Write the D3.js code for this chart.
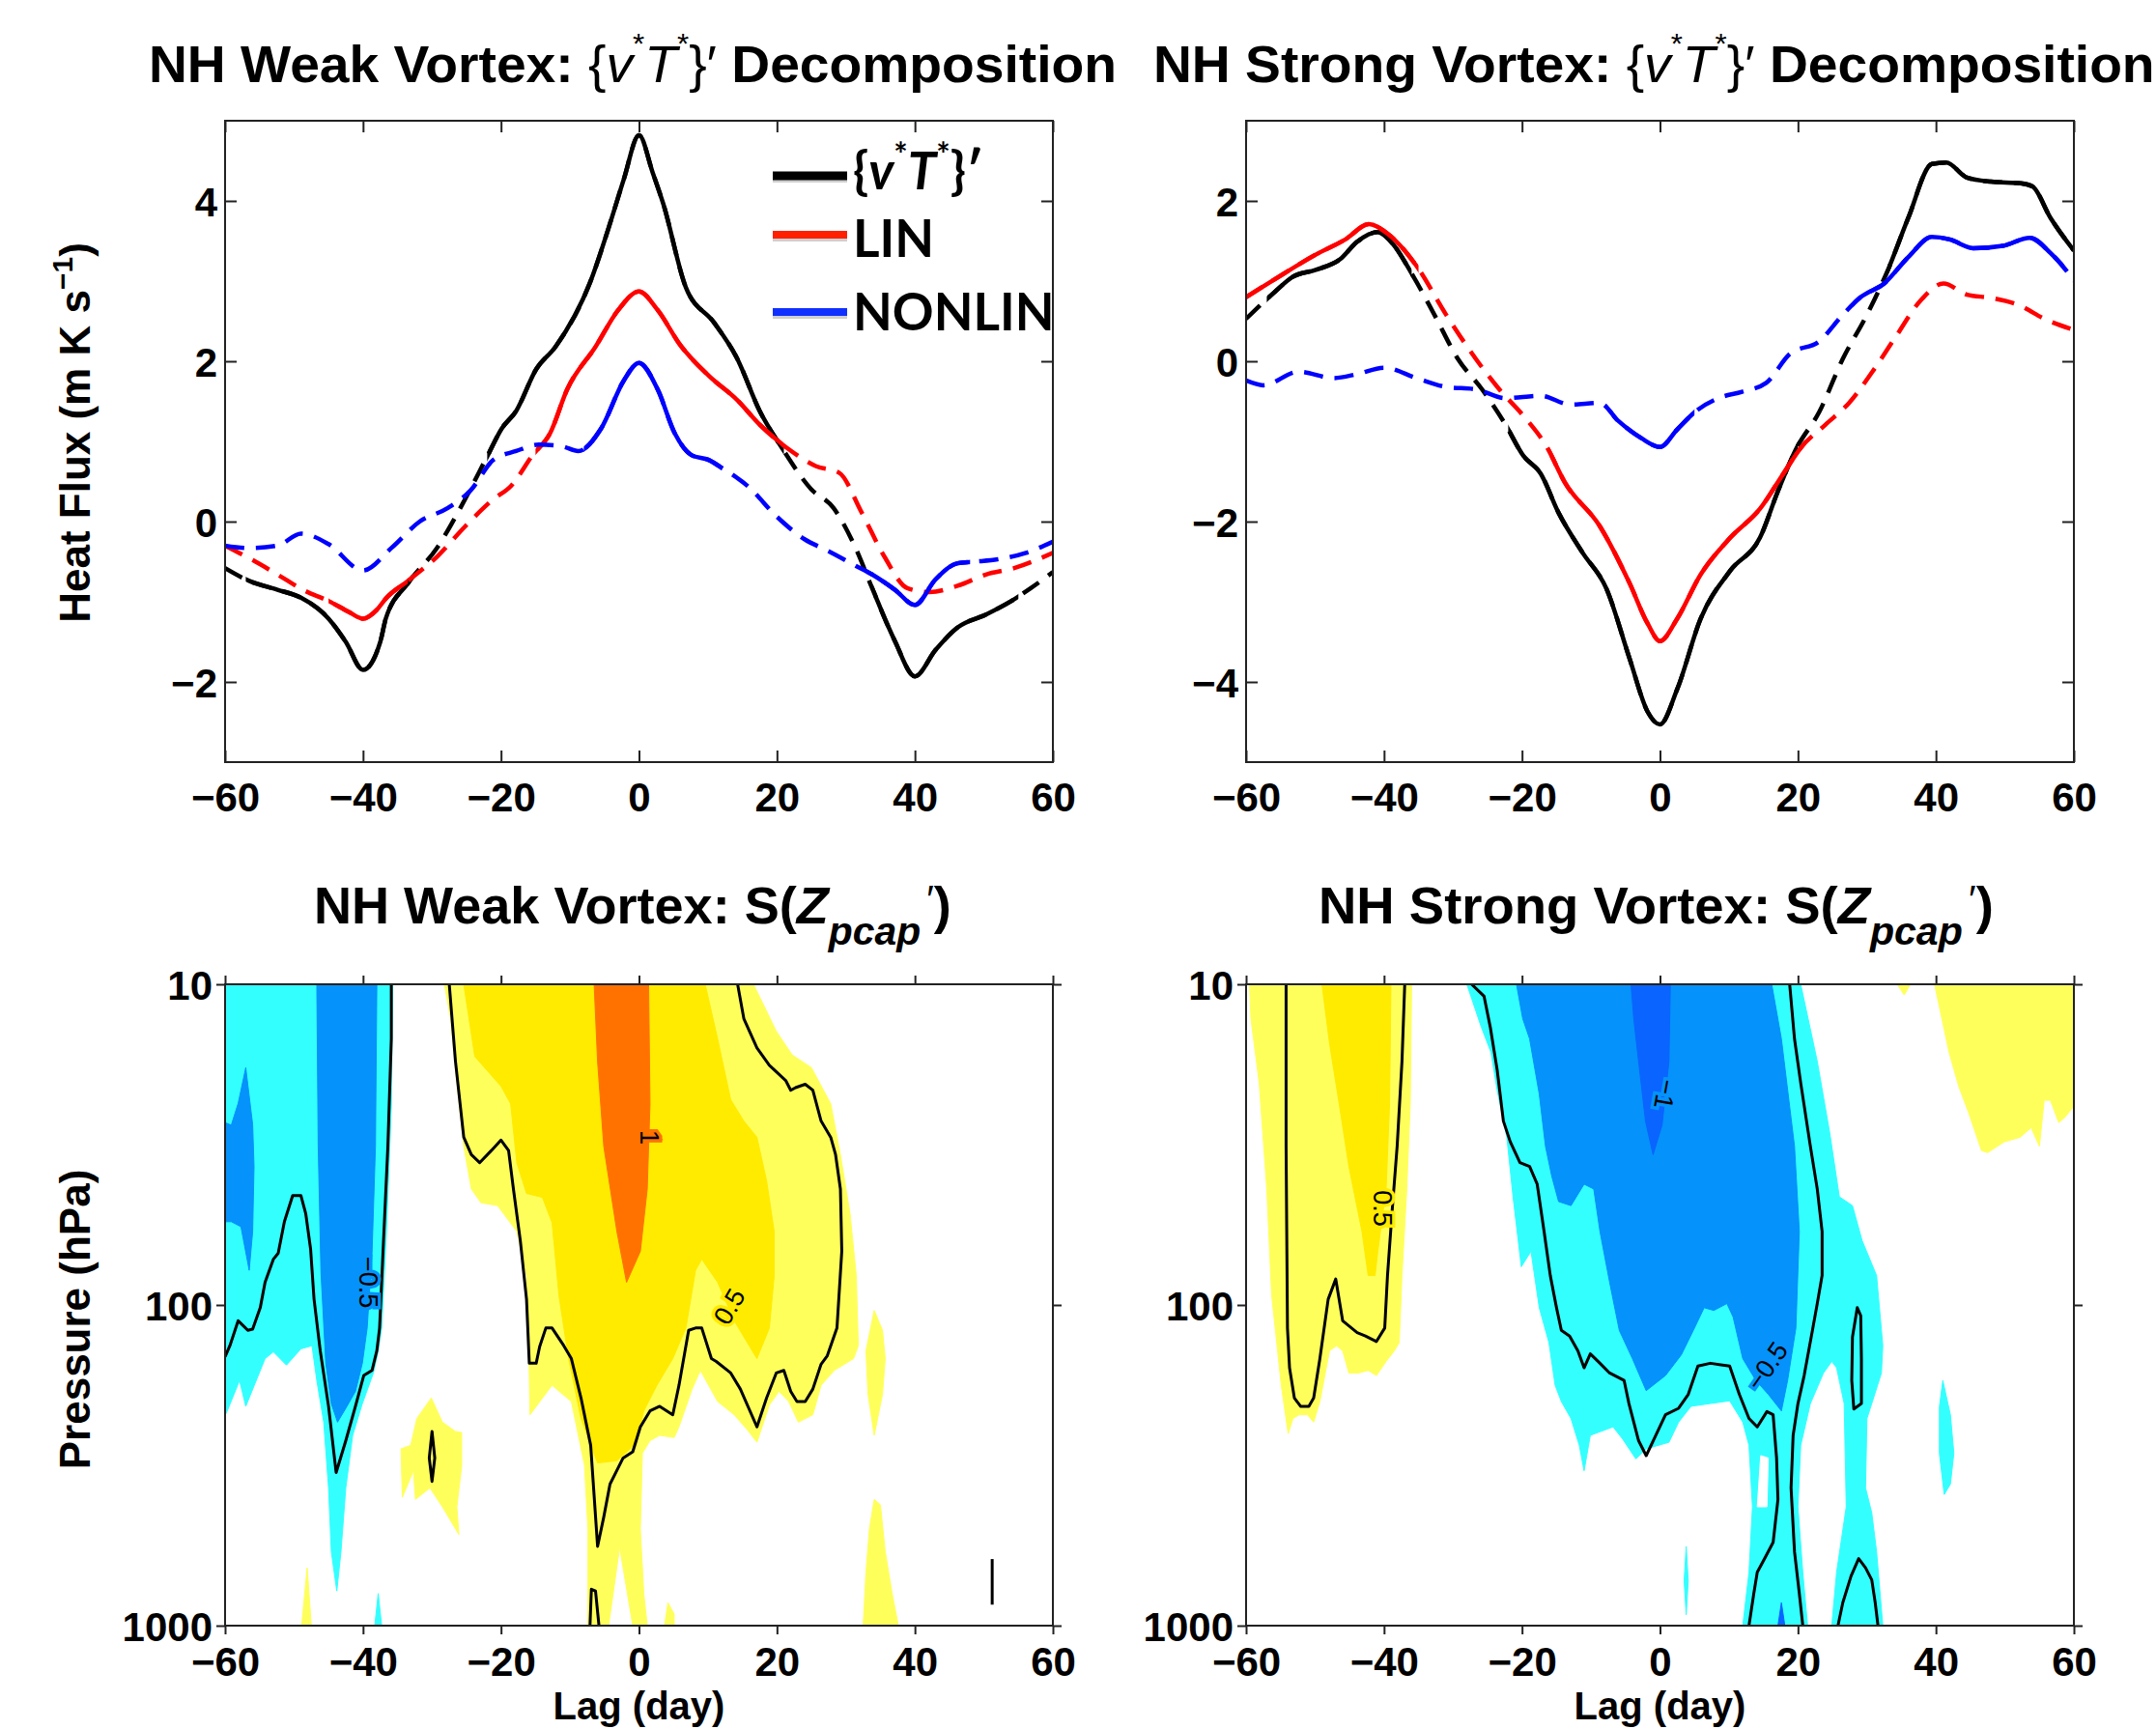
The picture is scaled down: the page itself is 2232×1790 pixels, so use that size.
<!DOCTYPE html>
<html>
<head>
<meta charset="utf-8">
<script src="https://cdn.jsdelivr.net/npm/d3@7"></script>
<style>
  body { margin: 0; background: #fff; }
  svg { display: block; }
  text { font-family: "Liberation Sans", Arial, sans-serif; font-weight: bold; fill: #000; }
  .tick text { font-size: 42px; }
  .title { font-size: 53px; }
  .axlabel { font-size: 44px; }
  .lagLabel { font-size: 40px; }
  .legend { font-family: Lato, "Open Sans", sans-serif; font-size: 53px; }
  .clabel { font-size: 27px; font-weight: normal; }
  .tick line { stroke: #222; stroke-width: 2; }
</style>
</head>
<body>
<svg id="chart" width="2232" height="1790"></svg>
<script>
// ---- Data ----
const lagTicks = [-60, -40, -20, 0, 20, 40, 60];
const weakFluxTicks = [-2, 0, 2, 4];
const strongFluxTicks = [-4, -2, 0, 2];
const pressureTicks = [10, 100, 1000];

// heat flux composites [lag, value]
const weakTotal = [[-60,-0.58],[-56.5,-0.74],[-52.4,-0.85],[-49,-0.95],[-45,-1.21],[-42.5,-1.5],[-40,-1.85],[-37.5,-1.5],[-36.7,-1.21],[-33.5,-0.77],[-29.3,-0.33],[-25.2,0.28],[-21.9,0.83],[-19.9,1.16],[-17.8,1.38],[-14.9,1.9],[-12.1,2.18],[-7.1,2.98],[-3.9,3.8],[-2.2,4.27],[0,4.82],[2,4.35],[3.5,3.97],[6.8,2.92],[10.9,2.48],[14.2,2.04],[17.5,1.38],[20.8,0.91],[24.9,0.41],[28.2,0.17],[31.4,-0.33],[33.8,-0.83],[37.1,-1.49],[40,-1.93],[43,-1.6],[46.2,-1.32],[50.3,-1.16],[54,-0.99],[56.8,-0.83],[60,-0.63]];
const weakLin = [[-60,-0.3],[-56,-0.48],[-52.4,-0.66],[-48.5,-0.86],[-45,-0.99],[-42,-1.13],[-40,-1.21],[-38,-1.1],[-36.7,-0.96],[-33.5,-0.74],[-29.3,-0.44],[-25.2,-0.06],[-21.1,0.28],[-18.6,0.44],[-15.4,0.83],[-12.9,1.1],[-10.4,1.65],[-6.3,2.18],[-3,2.64],[0,2.87],[2.7,2.64],[6,2.2],[10.1,1.82],[14.2,1.52],[17.5,1.21],[21.6,0.91],[25.7,0.69],[29,0.61],[32.3,0.11],[35.6,-0.44],[38.9,-0.83],[42.1,-0.88],[46.2,-0.8],[50.3,-0.66],[54.4,-0.58],[60,-0.39]];
const weakNonlin = [[-60,-0.3],[-56.5,-0.33],[-52.4,-0.3],[-49,-0.15],[-45,-0.28],[-40,-0.61],[-35.9,-0.33],[-31.8,0],[-27.7,0.17],[-24.4,0.39],[-21.1,0.77],[-17.8,0.88],[-14.5,0.96],[-11.2,0.94],[-8.8,0.88],[-5.5,1.16],[-2.2,1.76],[0,1.98],[2.7,1.65],[5.2,1.1],[7.6,0.83],[10.1,0.77],[12.2,0.66],[15.8,0.44],[20,0.06],[24,-0.22],[27.3,-0.36],[31.4,-0.55],[33.8,-0.66],[37.1,-0.85],[40,-1.04],[43,-0.72],[46.2,-0.52],[48.7,-0.5],[52,-0.47],[56.1,-0.39],[60,-0.25]];
const strongTotal = [[-60,0.53],[-55.9,0.86],[-53.3,1.05],[-49.9,1.14],[-46.4,1.27],[-43.9,1.49],[-40.9,1.61],[-38.7,1.46],[-36.1,1.11],[-32.7,0.58],[-29.3,0.03],[-25.8,-0.35],[-22.4,-0.79],[-19.8,-1.18],[-17.3,-1.4],[-14.7,-1.89],[-11.2,-2.39],[-7.8,-2.83],[-4.4,-3.71],[-1.8,-4.37],[0,-4.53],[2.5,-4.09],[5.9,-3.21],[10.2,-2.61],[14.5,-2.2],[17.1,-1.62],[19.7,-1.1],[23.1,-0.63],[26.5,0.03],[30,0.58],[33,1.13],[36,1.79],[39.4,2.46],[41.5,2.48],[44.5,2.29],[48,2.24],[52.3,2.22],[54,2.18],[56.6,1.79],[60,1.38]];
const strongLin = [[-60,0.8],[-55.9,1.02],[-49.9,1.33],[-45.6,1.52],[-42.2,1.71],[-39.6,1.6],[-35.3,1.19],[-31,0.58],[-26.7,0.03],[-23.3,-0.35],[-19.8,-0.68],[-16.4,-1.07],[-13.8,-1.51],[-8.7,-2.06],[-4.4,-2.77],[-1.8,-3.27],[0,-3.49],[2.5,-3.21],[5.9,-2.66],[10.2,-2.2],[14.5,-1.84],[17.9,-1.4],[20.5,-1.07],[24,-0.79],[27.4,-0.52],[30.8,-0.13],[34.2,0.31],[37.7,0.75],[41.1,0.97],[44.5,0.83],[48,0.79],[52.3,0.69],[55.7,0.53],[60,0.39]];
const strongNonlin = [[-60,-0.24],[-57.5,-0.3],[-52.4,-0.13],[-47.3,-0.21],[-43.9,-0.16],[-40,-0.08],[-35.3,-0.21],[-31,-0.32],[-26.7,-0.35],[-22.4,-0.46],[-17.3,-0.43],[-13,-0.54],[-8.7,-0.52],[-6.1,-0.74],[-2.7,-0.96],[0,-1.07],[2.5,-0.85],[5.1,-0.63],[8.5,-0.46],[11.9,-0.38],[15.4,-0.27],[18.8,0.09],[23.1,0.25],[26.5,0.58],[29.1,0.8],[32.5,0.97],[36,1.3],[39.4,1.55],[42,1.52],[45.4,1.41],[49.7,1.44],[53.6,1.54],[56.6,1.35],[59.1,1.11],[60,1.0]];

// lag ranges where each composite is significant (drawn solid)
const weakTotalSig = [[-57,-33],[-22,21],[34,55]];
const weakLinSig = [[-45,-33.5],[-15,21]];
const weakNonlinSig = [[-8,12],[33,48]];
const strongTotalSig = [[-57,-36],[-22,20],[33,60]];
const strongLinSig = [[-60,-35],[-16,21]];
const strongNonlinSig = [[-7,5],[28,58.5]];

// S(Zpcap') shaded regions, [lag, hPa]
const weakCyan = [[-60,10],[-35.7,10],[-35.9,24],[-36.6,59],[-37.3,118],[-37.8,139],[-38.5,163],[-40.1,203],[-41.5,255],[-42.5,372],[-43.2,588],[-43.8,780],[-44.6,588],[-45,372],[-45.7,232],[-46.7,172],[-47.4,134],[-49,137],[-51.1,154],[-53,140],[-54.2,147],[-57,207],[-57.9,172],[-59.8,217],[-60,220]];
const weakCyanBits = [[[-37.8,794],[-37.3,1000],[-38.3,1000]]];
const weakBlueTongue = [[-46.7,10],[-38,10],[-38.2,32],[-38.7,69],[-39.4,118],[-40.1,152],[-41.1,186],[-42.5,210],[-43.7,232],[-44.6,203],[-45.4,152],[-46.1,79],[-46.5,32]];
const weakBlueStrip = [[-57,18.2],[-56,27.4],[-55.8,37],[-56,59],[-56.5,78],[-57.7,57],[-59.1,55],[-60,55],[-60,27],[-59.1,27.5],[-58.1,23.5]];
const weakLightYellow = [[-28.2,10],[16.6,10],[19.9,14],[22.2,16.6],[25,18.2],[27.8,23.6],[29.2,34],[30.6,52],[31.5,81],[31.8,134],[31.1,147],[28.3,160],[26.4,178],[25.2,220],[23.1,232],[21.7,200],[20.3,186],[18.9,205],[17.1,268],[15.7,245],[13.8,220],[11.4,200],[8.9,160],[7.7,183],[5.8,240],[5.1,259],[3,255],[1.6,265],[0.5,290],[0.2,501],[0.7,794],[1.2,1000],[-0.9,1000],[-2.8,570],[-4.4,1000],[-7.4,1000],[-7.4,501],[-7.9,316],[-9.8,200],[-12.6,178],[-15.8,220],[-16,126],[-16.3,81],[-17.7,59],[-20.5,49],[-22.9,48],[-24.3,43.5],[-25.4,32],[-26.4,20.3],[-27.3,12.8]];
const weakYellowBits = [
  [[-30.1,195],[-28.5,232],[-26.6,248],[-25.7,250],[-25.7,318],[-26.4,426],[-26.1,520],[-28.5,426],[-30.3,372],[-32.4,404],[-32.7,329],[-34.3,398],[-34.5,281],[-33.1,274],[-32.2,226]],
  [[34.1,104],[35.3,120],[35.7,147],[35.3,190],[34.1,255],[33.2,190],[32.9,139]],
  [[34.1,404],[35,420],[35.7,588],[36.7,794],[37.6,1000],[32.5,1000],[32.9,682],[33.4,500]],
  [[4.2,848],[5.1,920],[5.1,1000],[3.7,1000]],
  [[-48.1,660],[-47.5,1000],[-48.9,1000]]
];
const weakGold = [[-25.4,10],[9.6,10],[11.4,14.8],[13.3,22.9],[15.2,26.7],[17.1,30],[18.5,41],[19.6,59],[19.6,81],[18.9,118],[17.1,147],[15.7,131],[13.8,112],[11.4,85],[9.1,72],[8.2,78],[6.8,118],[4.9,147],[2.6,178],[0.7,214],[-0.4,270],[-3.2,306],[-6,311],[-8.4,226],[-10.2,147],[-11.6,93.5],[-12.6,55.4],[-14,46.2],[-16.3,44.9],[-17.7,36.1],[-18.6,23.6],[-20,20.8],[-23.8,16.8]];
const weakOrange = [[-6.5,10],[1.4,10],[1.6,23.6],[1.2,43.5],[0.2,68],[-1.8,85],[-3.2,59],[-5.1,32],[-6,17.4]];

const weakContourNeg = [[-60,145],[-59.3,134],[-58.1,112],[-56.7,120],[-56,119],[-54.9,102],[-54.2,85],[-53,72],[-52.3,69],[-51.4,55],[-50.2,45.6],[-49,45.6],[-48.3,52],[-47.6,67],[-47.1,96],[-46.2,139],[-45,207],[-43.9,333],[-42.5,265],[-41.1,207],[-39.9,166],[-38.7,160],[-38,139],[-37.6,118],[-37.1,68],[-36.4,32],[-35.9,14.8],[-35.9,10]];
const weakContourPos = [[-27.5,10],[-26.6,17.4],[-25.4,30],[-24.3,34],[-23.1,36],[-21.4,33],[-20,30.6],[-18.9,33],[-18.2,43.5],[-17.2,63],[-16.3,96],[-15.9,152],[-14.9,152],[-14.4,135],[-13.5,118],[-12.6,118],[-10.9,134],[-9.8,147],[-8.4,195],[-7,274],[-6,566],[-5.1,458],[-4.2,362],[-2.3,300],[-0.9,287],[0.2,240],[1.6,214],[3,207],[4.9,220],[5.8,178],[7.2,120],[8.2,118],[9.1,118],[10.5,147],[11.2,150],[13.3,163],[14.7,183],[17.1,240],[18.5,195],[19.9,163],[21,160],[22,186],[22.9,200],[24.1,200],[25.2,183],[26.4,153],[27.3,144],[28.7,118],[29.4,68],[29.2,43.5],[28.5,34],[27.8,30],[26.4,26.7],[25.2,21.4],[24.1,20.5],[22.7,21],[22,21.4],[21.3,20],[18.9,17.9],[17.1,15.8],[15.2,12.8],[14.3,10]];
const weakContourIsland = [[-30,248],[-29.6,300],[-30,355],[-30.4,300]];
const weakContourBottom = [[-7.1,1000],[-6.9,770],[-6.3,780],[-5.8,1000]];
const weakContourTick = [[51.2,620],[51.2,860]];

const strongLightYellow = [[-59.5,10],[-36,10],[-36.2,23.6],[-36.7,43.5],[-37.4,81],[-37.8,131],[-38.5,139],[-39.7,150],[-41.1,166],[-42.3,160],[-43.7,163],[-45.1,163],[-46,139],[-46.9,134],[-47.9,139],[-49.3,200],[-50.2,232],[-51.1,220],[-52.3,220],[-53.2,226],[-53.9,252],[-54.9,178],[-56.3,93],[-57,43.5],[-58.1,20.3],[-59.3,12.8]];
const strongGold = [[-49,10],[-39,10],[-39.2,23.6],[-39.7,43.5],[-40.9,68],[-41.3,81],[-42.3,81],[-43.2,59],[-45.1,37],[-46.5,23.6],[-47.9,15.3]];
const strongYellowBits = [
  [[39.8,10],[60,10],[60,24],[58.7,26],[57.8,27],[56.6,23],[55.7,23],[55,32],[53.8,28],[52.2,30],[49.9,31],[47.5,33.5],[46.6,33],[44.7,25],[43.3,20.8],[41.9,16.3]],
  [[34.4,10],[36.3,10],[35.4,10.8]]
];
const strongCyan = [[-28,10],[20.4,10],[22.8,17.4],[24.6,29],[26,46],[27.9,49],[29.3,63],[31.4,81],[32.3,134],[32.1,163],[30.7,203],[30,226],[29.8,372],[30.7,445],[31.4,588],[32.3,1000],[24.9,1000],[25.6,682],[27,426],[26.7,203],[25.6,157],[24.9,150],[23.7,163],[21.8,203],[20.4,274],[20,426],[20.7,682],[21.4,1000],[12,1000],[12.9,682],[13.4,426],[12.9,274],[12,232],[10.1,199],[7.3,203],[4.5,207],[2.7,232],[1.3,268],[-2,281],[-3.5,302],[-5.4,262],[-6.8,240],[-10.1,255],[-11,329],[-11.7,274],[-12.9,226],[-14.3,200],[-15.2,178],[-16.1,131],[-17.5,102],[-18.7,68],[-20.1,76],[-21.3,46],[-22.2,30],[-23.6,21.4],[-24.5,16.3],[-25.9,13.6]];
const strongCyanHoles = [[[14.6,295],[15.7,300],[15.5,426],[14.1,426]]];
const strongCyanBits = [
  [[41,172],[42.1,220],[42.6,290],[42.1,362],[41.2,390],[40.5,290],[40.5,208]],
  [[3.8,566],[4.1,725],[3.8,925],[3.5,725]]
];
const strongBlue = [[-20.8,10],[16.2,10],[17.6,14.8],[19.5,32],[20.2,59],[19.7,118],[18.5,172],[17.6,214],[15.7,190],[13.9,172],[12,147],[10.6,109],[9.7,99],[7.8,104],[6.4,102],[5,118],[3.1,143],[0.8,166],[-2,185],[-4,147],[-5.9,120],[-7.3,85],[-8.7,59],[-9.6,43.5],[-11,42],[-12.9,49],[-14.7,47.6],[-15.7,39.6],[-16.6,32],[-17.5,22],[-18.9,14.8],[-19.9,12.8]];
const strongDarkBlue = [[-4.2,10],[1.5,10],[1.3,17.4],[0.3,27.5],[-1,34],[-2.1,26.7],[-3.1,17.4],[-3.8,12.8]];
const strongDarkBits = [[[17.1,1000],[17.6,848],[18.1,1000]]];

const strongContourPos = [[-54.2,10],[-54.2,32],[-54,118],[-53.7,157],[-53,195],[-52.1,207],[-50.9,207],[-50.2,195],[-49.3,147],[-48.1,96],[-47,83],[-46,112],[-43.9,122],[-42.7,125],[-41.1,130],[-39.9,118],[-39.5,81],[-38.8,50],[-38.1,32],[-37.4,17.4],[-37,10]];
const strongContourNegLeft = [[-27.3,10],[-25.5,10.9],[-24.6,13.6],[-23.6,18.5],[-22.7,26.7],[-21.7,31],[-20.3,36],[-18.9,37],[-17.8,42],[-16.8,59],[-15.9,81],[-15,102],[-14.3,120],[-13.1,125],[-11.9,139],[-11,157],[-10.1,142],[-8.7,152],[-7.3,163],[-5.2,172],[-4.5,203],[-3.1,265],[-2,295],[-0.6,255],[0.8,220],[2.7,210],[4.1,190],[5.5,155],[7.3,152],[10.1,155],[11.5,190],[12.9,226],[14.1,240],[15.5,215],[16.4,220],[16.9,300],[17.1,404],[16.4,550],[15.3,610],[14.1,682],[13.6,794],[12.9,1000]];
const strongContourNegRight = [[18.8,10],[19.5,14.8],[20.4,20.3],[21.8,32],[22.8,43.5],[23.5,59],[23.5,81],[22.8,99],[22.1,120],[20.9,166],[20,203],[19.3,255],[19,372],[19.5,588],[20.2,794],[20.7,1000]];
const strongContourLoop = [[28.6,102],[29.1,108],[29.2,147],[29.2,203],[28.1,211],[27.8,172],[27.9,126]];
const strongContourBottom = [[25.8,1000],[26.5,848],[27.7,700],[28.8,618],[29.8,660],[30.7,720],[31.2,848],[31.6,1000]];

const weakLabels = [
  { text: '\u22120.5', lag: -39.2, p: 85, rot: 90, halo: '#0592fa' },
  { text: '1', lag: 1.6, p: 30, rot: 90, halo: '#ff7200' },
  { text: '0.5', lag: 13.1, p: 101, rot: -60, halo: '#ffeb00' }
];
const strongLabels = [
  { text: '0.5', lag: -40.2, p: 50, rot: 90, halo: '#ffeb00' },
  { text: '\u22121', lag: 0.8, p: 22, rot: 100, halo: '#0592fa' },
  { text: '\u22120.5', lag: 15.5, p: 155, rot: -55, halo: '#0592fa' }
];

// ---- Styling ----
const C = {
  total: '#000000', lin: '#ff0000', nonlin: '#0000ff',
  cyan: '#33ffff', blue: '#0592fa', darkBlue: '#0a64ff',
  lightYellow: '#ffff5c', gold: '#ffeb00', orange: '#ff7200'
};

const svg = d3.select('#chart');
const defs = svg.append('defs');
const PW = 857, PH = 664;
const boxes = {
  tl: { x: 233, y: 125 }, tr: { x: 1290, y: 125 },
  bl: { x: 233, y: 1019 }, br: { x: 1290, y: 1019 }
};

function cleanAxis(a) {
  a.attr('font-size', null).attr('font-family', null);
  a.select('.domain').remove();
}

function fluxPanel(box, domain, yTicks, series, id) {
  const g = svg.append('g').attr('transform', `translate(${box.x},${box.y})`);
  const x = d3.scaleLinear().domain([-60, 60]).range([0, PW]);
  const y = d3.scaleLinear().domain(domain).range([PH, 0]);
  const line = d3.line().x(d => x(d[0])).y(d => y(d[1])).curve(d3.curveMonotoneX);

  defs.append('clipPath').attr('id', id + '-plot')
    .append('rect').attr('width', PW).attr('height', PH);
  const plot = g.append('g').attr('clip-path', `url(#${id}-plot)`);

  series.forEach((s, i) => {
    const cid = `${id}-sig${i}`;
    const cp = defs.append('clipPath').attr('id', cid);
    s.sig.forEach(([a, b]) => cp.append('rect')
      .attr('x', x(a)).attr('y', -20).attr('width', x(b) - x(a)).attr('height', PH + 40));
    plot.append('path').datum(s.values)
      .attr('d', line).attr('fill', 'none').attr('stroke', s.color)
      .attr('stroke-width', 4.5).attr('stroke-dasharray', '20,12');
    plot.append('g').attr('clip-path', `url(#${cid})`)
      .append('path').datum(s.values)
      .attr('d', line).attr('fill', 'none').attr('stroke', s.color)
      .attr('stroke-width', 4.5).attr('stroke-linejoin', 'round');
  });

  g.append('g').attr('transform', `translate(0,${PH})`)
    .call(d3.axisBottom(x).tickValues(lagTicks).tickSize(-12).tickSizeOuter(0))
    .call(cleanAxis)
    .call(a => a.selectAll('text').attr('y', 51).attr('dy', null));
  g.append('g')
    .call(d3.axisTop(x).tickValues(lagTicks).tickSize(-12).tickSizeOuter(0).tickFormat(''))
    .call(cleanAxis);
  g.append('g')
    .call(d3.axisLeft(y).tickValues(yTicks).tickSize(-12).tickSizeOuter(0).tickPadding(8))
    .call(cleanAxis)
    .call(a => a.selectAll('text').attr('dy', '0.36em'));
  g.append('g').attr('transform', `translate(${PW},0)`)
    .call(d3.axisRight(y).tickValues(yTicks).tickSize(-12).tickSizeOuter(0).tickFormat(''))
    .call(cleanAxis);
  g.append('rect').attr('width', PW).attr('height', PH)
    .attr('fill', 'none').attr('stroke', '#222').attr('stroke-width', 2);
  return { g, x, y };
}

function contourPanel(box, fills, lines, labels, id) {
  const g = svg.append('g').attr('transform', `translate(${box.x},${box.y})`);
  const x = d3.scaleLinear().domain([-60, 60]).range([0, PW]);
  const y = d3.scaleLog().domain([10, 1000]).range([0, PH]);
  const path = d3.line().x(d => x(d[0])).y(d => y(d[1]));

  defs.append('clipPath').attr('id', id + '-plot')
    .append('rect').attr('width', PW).attr('height', PH);
  const plot = g.append('g').attr('clip-path', `url(#${id}-plot)`);

  fills.forEach(f => {
    f.polys.forEach(poly => plot.append('path')
      .attr('d', path(poly) + 'Z').attr('fill', f.color)
      .attr('stroke', f.color).attr('stroke-width', 1));
  });
  lines.forEach(l => plot.append('path')
    .attr('d', path(l.pts) + (l.closed ? 'Z' : ''))
    .attr('fill', 'none').attr('stroke', '#000').attr('stroke-width', 3)
    .attr('stroke-linejoin', 'round'));
  labels.forEach(lb => plot.append('text')
    .attr('class', 'clabel')
    .attr('transform', `translate(${x(lb.lag)},${y(lb.p)}) rotate(${lb.rot})`)
    .attr('text-anchor', 'middle').attr('dy', '0.35em')
    .attr('stroke', lb.halo).attr('stroke-width', 7).attr('paint-order', 'stroke')
    .text(lb.text));

  g.append('g').attr('transform', `translate(0,${PH})`)
    .call(d3.axisBottom(x).tickValues(lagTicks).tickSize(9).tickSizeOuter(0))
    .call(cleanAxis)
    .call(a => a.selectAll('text').attr('y', 52).attr('dy', null));
  g.append('g')
    .call(d3.axisTop(x).tickValues(lagTicks).tickSize(9).tickSizeOuter(0).tickFormat(''))
    .call(cleanAxis);
  g.append('g')
    .call(d3.axisLeft(y).tickValues(pressureTicks).tickSize(9).tickSizeOuter(0).tickPadding(4).tickFormat(d3.format('d')))
    .call(cleanAxis)
    .call(a => a.selectAll('text').attr('dy', '0.36em'));
  g.append('g').attr('transform', `translate(${PW},0)`)
    .call(d3.axisRight(y).tickValues(pressureTicks).tickSize(9).tickSizeOuter(0).tickFormat(''))
    .call(cleanAxis);
  g.append('rect').attr('width', PW).attr('height', PH)
    .attr('fill', 'none').attr('stroke', '#222').attr('stroke-width', 2);
  return { g, x, y };
}

function richText(parent, parts, cls) {
  const t = parent.append('text').attr('class', cls);
  parts.forEach(p => {
    const s = t.append('tspan').text(p.t);
    if (p.i) s.style('font-style', 'italic');
    if (p.w) s.style('font-weight', p.w);
    if (p.size) s.style('font-size', p.size + 'px');
    if (p.dy) s.attr('dy', p.dy);
    if (p.dx) s.attr('dx', p.dx);
  });
  return t;
}

function fitTitle(x, y, parts, width, sx) {
  const g = svg.append('g');
  const t = richText(g, parts, 'title');
  const w = t.node().getBBox().width;
  const s = sx || width / w;
  g.attr('transform', `translate(${x},${y}) scale(${s},1)`);
  return s;
}

const decompTitle = name => [
  { t: `NH ${name} Vortex: ` },
  { t: '{', w: 'normal' },
  { t: 'v', i: 1, w: 'normal' },
  { t: '*', w: 'normal', size: 30, dy: -30 },
  { t: 'T', i: 1, w: 'normal', dy: 30 },
  { t: '*', w: 'normal', size: 30, dy: -30 },
  { t: '}', w: 'normal', dy: 30 },
  { t: '\u2032', w: 'normal' },
  { t: ' Decomposition' }
];
const zTitle = name => [
  { t: `NH ${name} Vortex: S(` },
  { t: 'Z', i: 1 },
  { t: 'pcap', i: 1, size: 40, dy: 22 },
  { t: '\u2032', w: 'normal', size: 40, dy: -33, dx: 6 },
  { t: ')', dy: 11 }
];

// ---- Panels ----
fluxPanel(boxes.tl, [-3, 5], weakFluxTicks, [
  { values: weakTotal, sig: weakTotalSig, color: C.total },
  { values: weakLin, sig: weakLinSig, color: C.lin },
  { values: weakNonlin, sig: weakNonlinSig, color: C.nonlin }
], 'tl');

fluxPanel(boxes.tr, [-5, 3], strongFluxTicks, [
  { values: strongTotal, sig: strongTotalSig, color: C.total },
  { values: strongLin, sig: strongLinSig, color: C.lin },
  { values: strongNonlin, sig: strongNonlinSig, color: C.nonlin }
], 'tr');

contourPanel(boxes.bl, [
  { color: C.cyan, polys: [weakCyan, ...weakCyanBits] },
  { color: C.blue, polys: [weakBlueTongue, weakBlueStrip] },
  { color: C.lightYellow, polys: [weakLightYellow, ...weakYellowBits] },
  { color: C.gold, polys: [weakGold] },
  { color: C.orange, polys: [weakOrange] }
], [
  { pts: weakContourNeg }, { pts: weakContourPos },
  { pts: weakContourIsland, closed: true }, { pts: weakContourBottom },
  { pts: weakContourTick }
], weakLabels, 'bl');

contourPanel(boxes.br, [
  { color: C.lightYellow, polys: [strongLightYellow, ...strongYellowBits] },
  { color: C.gold, polys: [strongGold] },
  { color: C.cyan, polys: [strongCyan, ...strongCyanBits] },
  { color: '#ffffff', polys: strongCyanHoles },
  { color: C.blue, polys: [strongBlue] },
  { color: C.darkBlue, polys: [strongDarkBlue, ...strongDarkBits] }
], [
  { pts: strongContourPos }, { pts: strongContourNegLeft },
  { pts: strongContourNegRight }, { pts: strongContourLoop, closed: true },
  { pts: strongContourBottom }
], strongLabels, 'br');

// ---- Legend (top-left panel) ----
const legendItems = [
  { color: C.total, width: 9, y: 182, base: 196,
    parts: [{ t: '{' }, { t: 'v', i: 1 }, { t: '*', size: 34, dy: -24 }, { t: 'T', i: 1, dy: 24 },
            { t: '*', size: 34, dy: -24 }, { t: '}\u2032', dy: 24 }] },
  { color: '#ff2000', width: 8, y: 243, base: 266, parts: [{ t: 'LIN' }] },
  { color: '#1030ff', width: 8, y: 323, base: 342, parts: [{ t: 'NONLIN' }] }
];
const lg = svg.append('g');
legendItems.forEach(it => {
  lg.append('line').attr('x1', 800).attr('x2', 877).attr('y1', it.y + 5).attr('y2', it.y + 5)
    .attr('stroke', '#cfcfcf').attr('stroke-width', 4);
  lg.append('line').attr('x1', 800).attr('x2', 877).attr('y1', it.y).attr('y2', it.y)
    .attr('stroke', it.color).attr('stroke-width', it.width);
  const t = richText(lg, it.parts, 'legend');
  t.attr('x', 883).attr('y', it.base);
});

// ---- Titles ----
const sTop = fitTitle(154, 85, decompTitle('Weak'), 1002);
fitTitle(1194, 85, decompTitle('Strong'), null, sTop);
fitTitle(325, 956, zTitle('Weak'), 660);
fitTitle(1365, 956, zTitle('Strong'), 699);

// ---- Axis labels ----
const hf = svg.append('text').attr('class', 'axlabel')
  .attr('transform', 'translate(93,448) rotate(-90)').attr('text-anchor', 'middle');
hf.append('tspan').text('Heat Flux (m K s');
hf.append('tspan').text('\u22121').style('font-size', '30px').attr('dy', -18);
hf.append('tspan').text(')').attr('dy', 18);

svg.append('text').attr('class', 'axlabel')
  .attr('transform', 'translate(93,1366) rotate(-90)').attr('text-anchor', 'middle')
  .text('Pressure (hPa)');

[boxes.bl, boxes.br].forEach(b => svg.append('text').attr('class', 'axlabel lagLabel')
  .attr('x', b.x + PW / 2).attr('y', 1780).attr('text-anchor', 'middle')
  .text('Lag (day)'));
</script>
</body>
</html>
